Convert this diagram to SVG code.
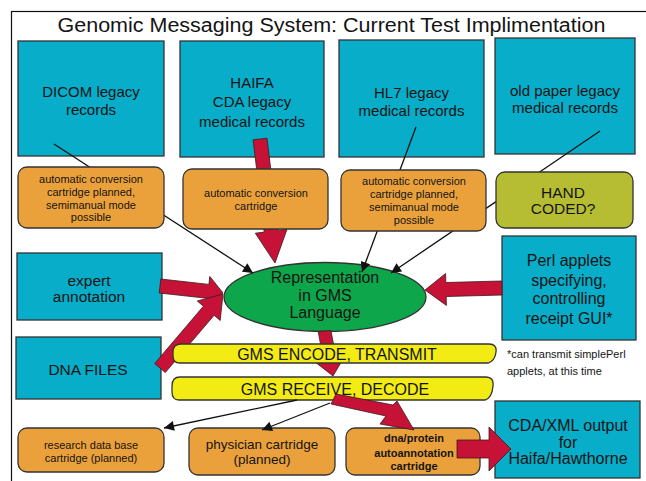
<svg xmlns="http://www.w3.org/2000/svg" width="646" height="481" viewBox="0 0 646 481">
<defs>
<style>
text{font-family:"Liberation Sans",Arial,sans-serif;fill:#141414;text-anchor:middle}
.cyan{fill:#07adc9;stroke:#333;stroke-width:1.3}
.org{fill:#eaa13b;stroke:#333;stroke-width:1.3}
.olv{fill:#b6bd32;stroke:#333;stroke-width:1.3}
.grn{fill:#0ea64b;stroke:#333;stroke-width:1.3}
.yel{fill:#f3ec14;stroke:#333;stroke-width:1.3}
.red{fill:#c51236;stroke:#3a1a1a;stroke-width:0.8}
.blk{stroke:#111;stroke-width:1.3;fill:none}
.t15{font-size:15px}.t16{font-size:16px}.t11{font-size:11px}.tb{font-size:11px;font-weight:bold}
</style>
<marker id="ah" viewBox="0 0 10 10" refX="10" refY="5" markerUnits="userSpaceOnUse" markerWidth="13" markerHeight="10" orient="auto">
<path d="M0,0 L10,5 L0,10 Z" fill="#111"/>
</marker>
</defs>
<rect x="0" y="0" width="646" height="481" fill="#fff"/>
<rect x="11.5" y="11.5" width="640" height="480" fill="none" stroke="#111" stroke-width="1.2"/>
<text x="331.5" y="31.5" font-size="20" textLength="548" lengthAdjust="spacingAndGlyphs">Genomic Messaging System: Current Test Implimentation</text>

<g id="dicom"><rect class="cyan" x="18" y="41" width="146" height="115"/>
<text class="t15" x="91" y="97">DICOM legacy</text><text class="t15" x="91" y="115">records</text></g>
<g id="haifa"><rect class="cyan" x="180" y="41" width="144" height="116"/>
<text class="t15" x="252" y="87.5">HAIFA</text><text class="t15" x="252" y="107">CDA legacy</text><text class="t15" x="252" y="126.5">medical records</text></g>
<g id="hl7"><rect class="cyan" x="339" y="40" width="145" height="117"/>
<text class="t15" x="411.5" y="98">HL7 legacy</text><text class="t15" x="411.5" y="116">medical records</text></g>
<g id="paper"><rect class="cyan" x="495" y="38" width="140" height="116"/>
<text class="t15" x="565" y="96">old paper legacy</text><text class="t15" x="565" y="113">medical records</text></g>

<g id="expert"><rect class="cyan" x="17" y="253" width="145" height="67"/>
<text x="89" y="285.5" font-size="15.5">expert</text><text x="89" y="302" font-size="15.5">annotation</text></g>
<g id="dnafiles"><rect class="cyan" x="16" y="337" width="145" height="62"/>
<text x="88" y="374.5" font-size="15.5">DNA FILES</text></g>
<g id="perl"><rect class="cyan" x="502" y="236" width="134" height="104"/>
<text class="t16" x="569" y="266">Perl applets</text><text class="t16" x="569" y="285.5">specifying,</text><text class="t16" x="569" y="304">controlling</text><text class="t16" x="569" y="324">receipt GUI*</text></g>
<g id="footnote"><text class="t11" x="507" y="358" style="text-anchor:start">*can transmit simplePerl</text><text class="t11" x="507" y="374.5" style="text-anchor:start">applets, at this time</text></g>

<g id="gms"><ellipse class="grn" cx="325" cy="297" rx="101" ry="34.5"/>
<text class="t16" x="325" y="283">Representation</text><text class="t16" x="325" y="300.5">in GMS</text><text class="t16" x="325" y="317.5">Language</text></g>

<g id="receive"><path class="yel" d="M180,377 H486 Q494,377 493,386 Q492,398 485,400 H179 Q172,400 172,392 V386 Q172,377 180,377 Z"/>
<text class="t16" x="335" y="394.5">GMS RECEIVE, DECODE</text></g>

<g id="research"><rect class="org" x="18" y="428" width="146" height="44" rx="9"/>
<text class="t11" x="91" y="449">research data base</text><text class="t11" x="91" y="461.5">cartridge (planned)</text></g>
<g id="physician"><rect class="org" x="189" y="428" width="146" height="47" rx="9"/>
<text x="262" y="448.5" font-size="13.5">physician cartridge</text><text x="262" y="464" font-size="13.5">(planned)</text></g>
<g id="dnaprotein"><rect class="org" x="346" y="428" width="134" height="47" rx="9"/>
<text class="tb" x="414" y="441.5">dna/protein</text><text class="tb" x="414" y="457">autoannotation</text><text class="tb" x="414" y="470">cartridge</text></g>
<g id="cdaxml"><rect class="cyan" x="495" y="401" width="145" height="77"/>
<text class="t16" x="568" y="430.5">CDA/XML output</text><text class="t16" x="568" y="447.5">for</text><text class="t16" x="568" y="464">Haifa/Hawthorne</text></g>

<g id="connectors">
<line class="blk" x1="54" y1="144" x2="253" y2="273" marker-end="url(#ah)"/>
<line class="blk" x1="416" y1="127" x2="362" y2="272" marker-end="url(#ah)"/>
<line class="blk" x1="600" y1="131" x2="391" y2="273" marker-end="url(#ah)"/>
<line class="blk" x1="297" y1="400" x2="164" y2="428" marker-end="url(#ah)"/>
<line class="blk" x1="330" y1="403" x2="262" y2="430" marker-end="url(#ah)"/>
<polygon class="red" points="253.1,139.8 264.2,232.1 255.3,233.2 275,263 287.0,229.3 278.1,230.4 267.0,138.2"/>
<polygon class="red" points="160.8,279.0 208.9,284.4 209.8,276.4 223,293 206.4,306.3 207.3,298.3 159.2,293.0"/>
<polygon class="red" points="154.7,363.5 203.4,306.2 197.3,301.0 223,294 220.2,320.5 214.1,315.3 165.3,372.5"/>
<polygon class="red" points="502.2,295.0 446.2,296.5 446.4,305.4 425,290 445.6,273.5 445.8,282.5 501.8,281.0"/>
<polygon class="red" points="318.2,331.5 323.7,361.5 316.3,362.9 333,376 343.8,357.7 336.4,359.1 330.9,330.5"/>
<polygon class="red" points="336,394 393,405 397,401 414,430 380,424 386,416 331,404"/>
<polygon class="red" points="457,440 489,440 489,427 511,449 489,471 489,458 457,458"/>
</g>

<g id="cart-dicom"><rect class="org" x="18" y="167" width="146" height="61" rx="9"/>
<text class="t11" x="91" y="183">automatic conversion</text><text class="t11" x="91" y="195.5">cartridge planned,</text><text class="t11" x="91" y="208.5">semimanual mode</text><text class="t11" x="91" y="221">possible</text></g>
<g id="cart-haifa"><rect class="org" x="183" y="169" width="145" height="60" rx="9"/>
<text class="t11" x="256" y="197">automatic conversion</text><text class="t11" x="256" y="209.5">cartridge</text></g>
<g id="cart-hl7"><rect class="org" x="341" y="170" width="145" height="61" rx="9"/>
<text class="t11" x="414" y="184.5">automatic conversion</text><text class="t11" x="414" y="197.5">cartridge planned,</text><text class="t11" x="414" y="210.5">semimanual mode</text><text class="t11" x="414" y="223.5">possible</text></g>
<g id="handcoded"><rect class="olv" x="496" y="172" width="137" height="56" rx="9"/>
<text x="563" y="197.5" font-size="15.5">HAND</text><text x="563" y="214" font-size="15.5">CODED?</text></g>
<g id="encode"><path class="yel" d="M181,344 H489 Q497,344 496,352 Q495,361 488,363 H180 Q173,363 173,356 V352 Q173,344 181,344 Z"/>
<text class="t16" x="337" y="359.5">GMS ENCODE, TRANSMIT</text></g>
</svg>
